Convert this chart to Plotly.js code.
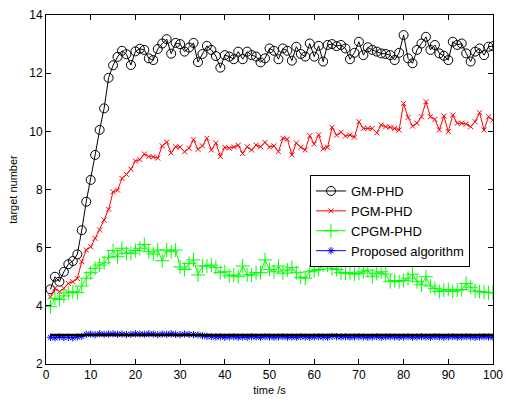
<!DOCTYPE html>
<html>
<head>
<meta charset="utf-8">
<script src="https://cdn.plot.ly/plotly-3.0.1.min.js"></script>
<style>html,body{margin:0;padding:0;background:#fff;}#chart{width:506px;height:401px;}</style>
</head>
<body>
<div id="chart"></div>
<script>
// time axis (s)
const time = [1,2,3,4,5,6,7,8,9,10,11,12,13,14,15,16,17,18,19,20,21,22,23,24,25,26,27,28,29,30,31,32,33,34,35,36,37,38,39,40,41,42,43,44,45,46,47,48,49,50,51,52,53,54,55,56,57,58,59,60,61,62,63,64,65,66,67,68,69,70,71,72,73,74,75,76,77,78,79,80,81,82,83,84,85,86,87,88,89,90,91,92,93,94,95,96,97,98,99,100];

const gmPhd = [4.57,5.0,4.83,5.17,5.43,5.54,5.77,6.6,7.58,8.33,9.19,10.05,10.79,11.84,12.27,12.56,12.77,12.65,12.28,12.75,12.84,12.8,12.51,12.45,12.83,13.02,13.17,12.67,13.04,13.0,12.74,12.88,13.04,12.38,12.66,12.94,12.8,12.59,12.19,12.62,12.57,12.48,12.74,12.48,12.74,12.62,12.57,12.37,12.51,12.85,12.77,12.48,12.85,12.77,12.43,12.91,12.66,12.57,13.02,12.57,12.94,12.4,12.97,13.0,12.93,12.97,12.85,12.48,12.7,13.08,12.62,12.89,12.8,12.74,12.68,12.66,12.62,12.45,12.7,13.31,12.51,12.34,12.8,13.02,13.25,12.8,12.97,12.68,12.6,12.45,13.08,12.97,13.02,12.68,12.4,12.74,12.85,12.62,12.91,12.93];

const pgmPhd = [4.31,4.6,4.49,4.6,4.77,4.83,4.94,5.52,5.92,6.03,6.32,6.61,6.95,7.32,7.92,7.98,8.38,8.52,8.7,8.98,9.03,9.22,9.13,9.12,9.08,9.5,9.63,9.26,9.47,9.46,9.3,9.42,9.71,9.38,9.5,9.76,9.36,9.6,9.14,9.45,9.42,9.46,9.52,9.24,9.47,9.36,9.53,9.47,9.62,9.46,9.5,9.3,9.76,9.73,9.19,9.6,9.45,9.36,9.85,9.56,9.88,9.4,9.45,10.14,9.87,9.97,9.84,9.87,9.8,10.33,10.1,10.1,10.1,9.95,10.22,10.16,10.14,10.1,10.05,10.96,10.48,10.18,10.28,10.5,11.02,10.5,10.41,10.05,10.53,9.99,10.56,10.28,10.28,10.25,10.16,10.33,10.64,10.05,10.5,10.39];

const cpgmPhd = [3.97,4.26,4.22,4.34,4.45,4.49,4.45,4.68,4.95,5.14,5.29,5.4,5.48,5.67,5.9,5.69,5.98,5.81,5.81,5.9,5.98,6.11,5.86,5.78,5.92,5.55,5.92,5.86,5.92,5.34,5.25,5.46,5.58,5.06,5.37,5.37,5.4,5.32,5.14,5.17,5.03,5.06,5.0,5.37,5.06,5.06,5.14,5.14,5.58,5.25,5.17,5.37,5.12,5.23,5.32,5.14,4.98,4.95,5.17,5.21,5.25,5.4,5.4,5.29,5.25,5.14,5.12,5.14,5.09,5.12,5.17,5.23,5.0,5.12,5.17,5.09,4.83,4.87,4.83,4.87,4.95,5.09,4.83,4.72,5.0,4.68,4.6,4.49,4.54,4.56,4.49,4.54,4.56,4.77,4.64,4.51,4.49,4.47,4.45,4.45];

const proposed = [2.92,2.9,2.93,2.91,2.92,2.9,2.93,2.95,3.02,3.03,3.01,3.04,3.02,3.03,3.04,3.02,3.03,3.01,3.02,3.04,3.03,3.02,3.04,3.03,3.01,3.03,3.02,3.04,3.02,3.01,3.03,3.02,3.01,3.0,2.97,2.95,2.94,2.93,2.94,2.92,2.93,2.94,2.92,2.93,2.92,2.94,2.93,2.92,2.94,2.93,2.92,2.93,2.94,2.92,2.93,2.92,2.94,2.93,2.92,2.93,2.94,2.93,2.92,2.95,2.94,2.93,2.94,2.92,2.93,2.94,2.93,2.92,2.93,2.94,2.92,2.93,2.94,2.93,2.92,2.93,2.94,2.92,2.93,2.94,2.93,2.92,2.94,2.93,2.92,2.93,2.94,2.92,2.93,2.94,2.93,2.92,2.93,2.94,2.93,2.92];

const trueNumber = 3;
const seriesNames = ['GM-PHD','PGM-PHD','CPGM-PHD','Proposed algorithm'];
const xTicks = [0,10,20,30,40,50,60,70,80,90,100];
const yTicks = [2,4,6,8,10,12,14];

const FONT = 'Arial, "Liberation Sans", sans-serif';

const traces = [
  {x: time, y: gmPhd, name: seriesNames[0], mode: 'lines+markers',
   line: {color: '#000000', width: 1},
   marker: {symbol: 'circle-open', size: 9, color: '#000000', line: {width: 1}}},
  {x: time, y: pgmPhd, name: seriesNames[1], mode: 'lines+markers',
   line: {color: '#ff0000', width: 1},
   marker: {symbol: 'x-thin-open', size: 5, color: '#ff0000', line: {width: 1, color: '#ff0000'}}},
  {x: time, y: cpgmPhd, name: seriesNames[2], mode: 'lines+markers',
   line: {color: '#00ff00', width: 1},
   marker: {symbol: 'cross-thin-open', size: 10, color: '#00ff00', line: {width: 1, color: '#00ff00'}}},
  {x: time, y: proposed, name: seriesNames[3], mode: 'lines+markers',
   line: {color: '#0000ff', width: 1},
   marker: {symbol: 'asterisk-open', size: 6, color: '#0000ff', line: {width: 1, color: '#0000ff'}}},
  {x: time, y: time.map(() => trueNumber), name: 'truth', mode: 'lines', showlegend: false,
   line: {color: '#000000', width: 2.5}}
];

const axisCommon = {
  showline: true, linecolor: '#000', linewidth: 1, mirror: 'ticks',
  ticks: 'inside', ticklen: 5, tickwidth: 1, tickcolor: '#000',
  showgrid: false, zeroline: false, automargin: false,
  tickfont: {family: FONT, size: 12, color: '#000'}
};

const layout = {
  width: 506, height: 401,
  margin: {l: 46, r: 13, t: 15, b: 37, pad: 0},
  paper_bgcolor: '#fff', plot_bgcolor: '#fff',
  font: {family: FONT, size: 12, color: '#000'},
  xaxis: Object.assign({}, axisCommon, {
    range: [0, 100], tickvals: xTicks, ticktext: xTicks.map(String),
    title: {text: 'time /s', font: {family: FONT, size: 11, color: '#000'}, standoff: 4}
  }),
  yaxis: Object.assign({}, axisCommon, {
    range: [2, 14], tickvals: yTicks, ticktext: yTicks.map(String),
    title: {text: 'target number', font: {family: FONT, size: 11, color: '#000'}, standoff: 9}
  }),
  showlegend: true,
  legend: {
    x: 0.5906, y: 0.5415, xanchor: 'left', yanchor: 'top',
    bgcolor: '#fff', bordercolor: '#000', borderwidth: 1,
    font: {family: FONT, size: 13, color: '#000'},
    tracegroupgap: 0
  }
};

Plotly.newPlot('chart', traces, layout, {displayModeBar: false, staticPlot: true});
</script>
</body>
</html>
